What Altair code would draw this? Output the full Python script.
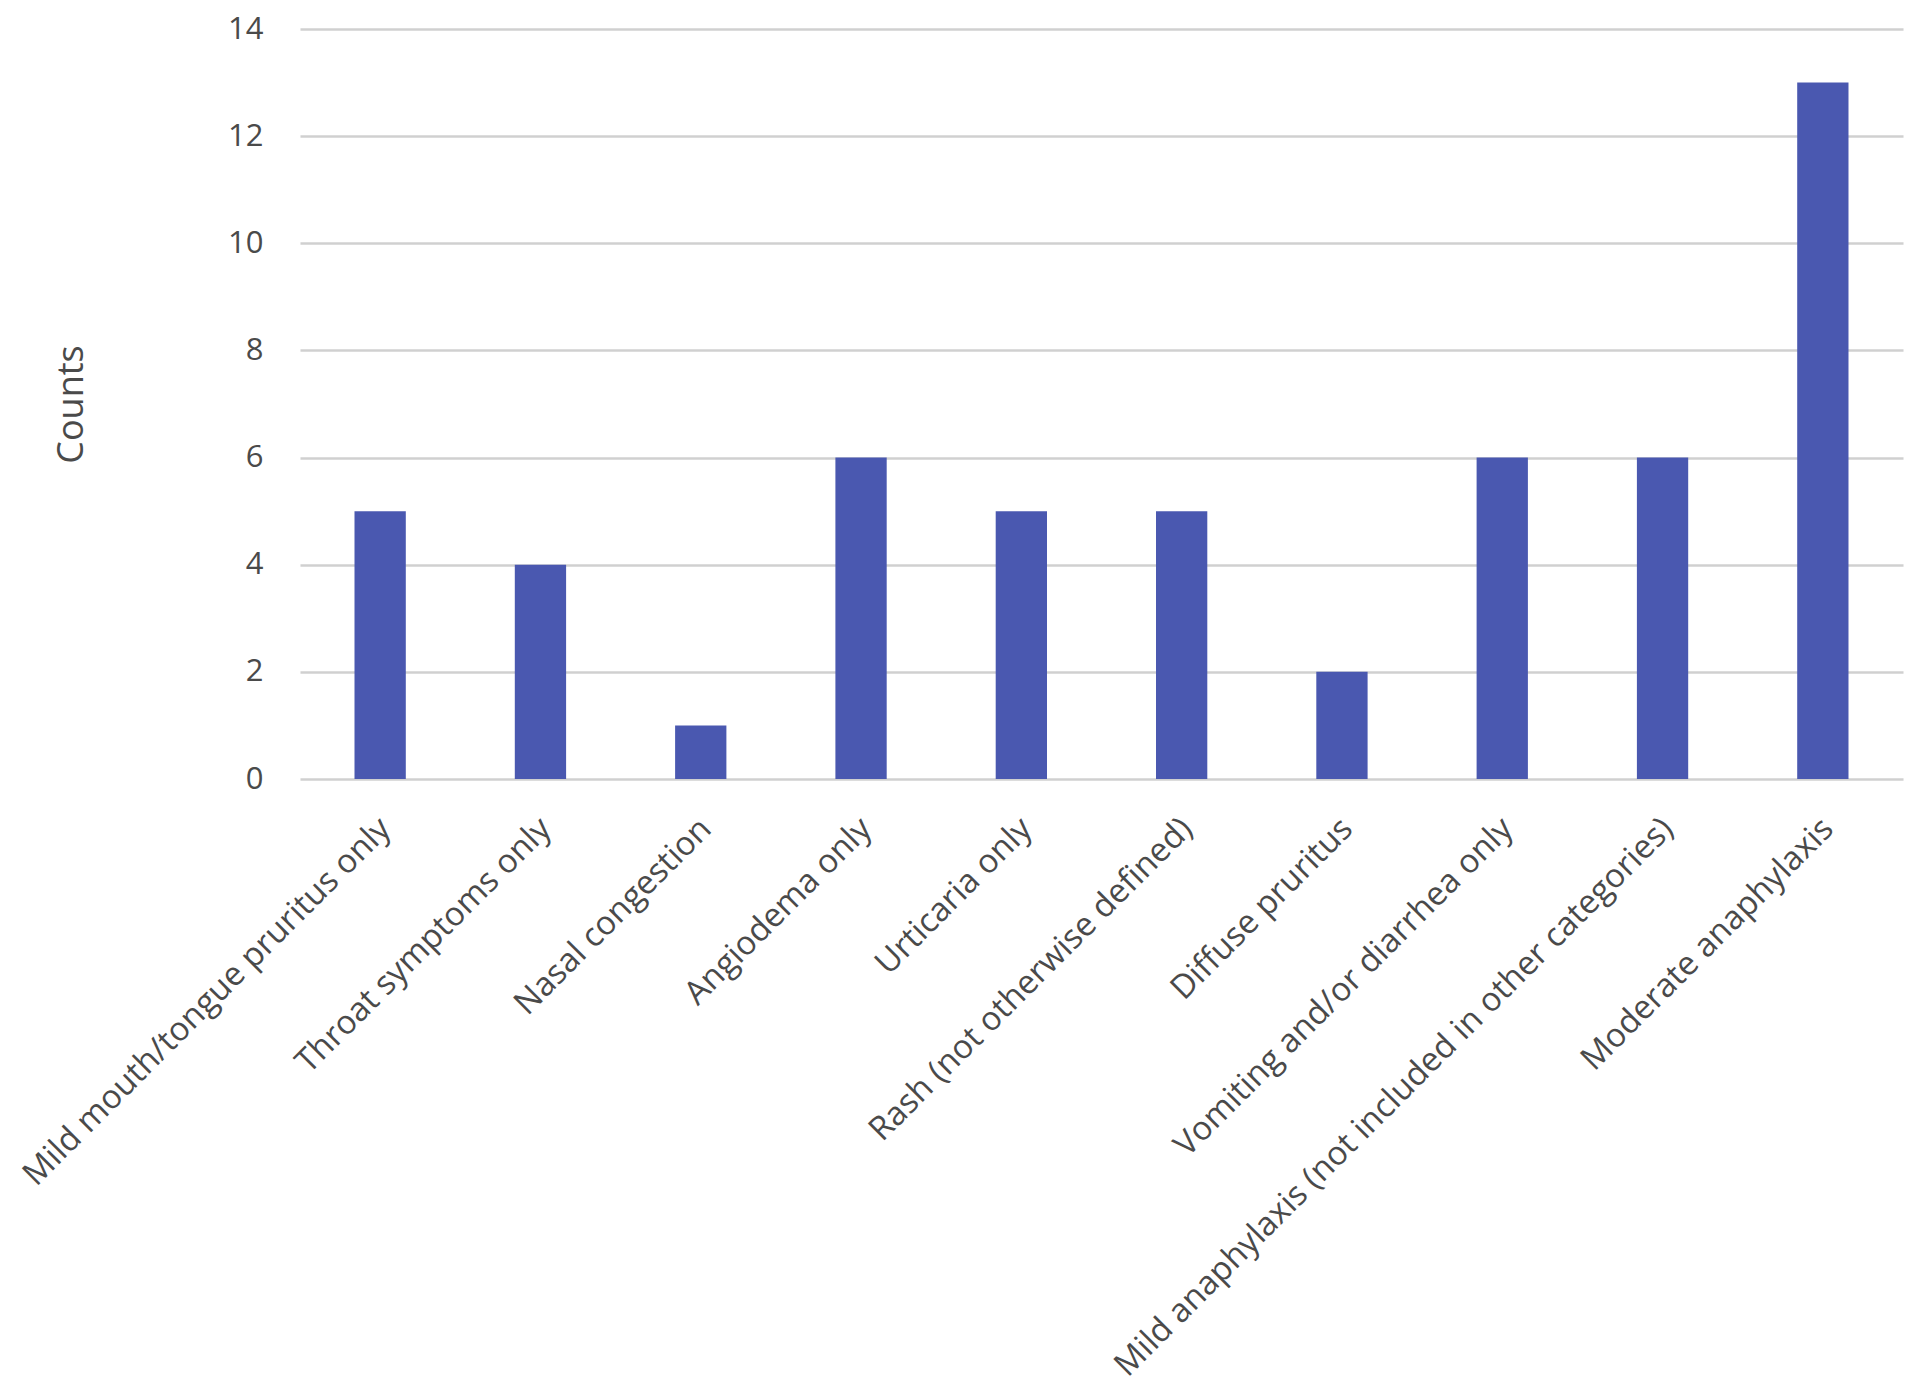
import altair as alt
import pandas as pd

categories = [
    "Mild mouth/tongue pruritus only",
    "Throat symptoms only",
    "Nasal congestion",
    "Angiodema only",
    "Urticaria only",
    "Rash (not otherwise defined)",
    "Diffuse pruritus",
    "Vomiting and/or diarrhea only",
    "Mild anaphylaxis (not included in other categories)",
    "Moderate anaphylaxis",
]
counts = [5, 4, 1, 6, 5, 5, 2, 6, 6, 13]
y_ticks = [0, 2, 4, 6, 8, 10, 12, 14]

df = pd.DataFrame({"category": categories, "count": counts})

FONT = "Open Sans"
TEXT = "#4a4a4a"

chart = (
    alt.Chart(df)
    .mark_bar(color="#4A58B0")
    .encode(
        x=alt.X(
            "category:N",
            sort=categories,
            title=None,
            scale=alt.Scale(paddingInner=0.68, paddingOuter=0.34),
            axis=alt.Axis(
                labelAngle=-45,
                labelAlign="right",
                labelBaseline="top",
                labelFontSize=33,
                labelFont=FONT,
                labelColor=TEXT,
                labelPadding=33,
                labelOffset=-6,
                labelLimit=0,
                ticks=False,
                domain=False,
                grid=False,
            ),
        ),
        y=alt.Y(
            "count:Q",
            title="Counts",
            scale=alt.Scale(domain=[0, 14], nice=False),
            axis=alt.Axis(
                values=y_ticks,
                labelFontSize=31,
                labelFont=FONT,
                labelColor=TEXT,
                labelPadding=37,
                ticks=False,
                domain=False,
                grid=True,
                gridColor="#D0D0D0",
                gridWidth=2.5,
                titleFontSize=36,
                titleFont=FONT,
                titleFontWeight="normal",
                titleColor=TEXT,
                titlePadding=137,
            ),
        ),
    )
    .properties(
        width=1603,
        height=750,
        autosize=alt.AutoSizeParams(type="none"),
        padding={"left": 292, "top": 21, "right": 9, "bottom": 612},
        view=alt.ViewBackground(stroke="transparent", strokeWidth=0),
    )
    .configure_view(stroke="transparent", strokeWidth=0)
    .configure(background="white")
)

chart.save("out.html", embed_options={"renderer": "svg", "actions": False})
